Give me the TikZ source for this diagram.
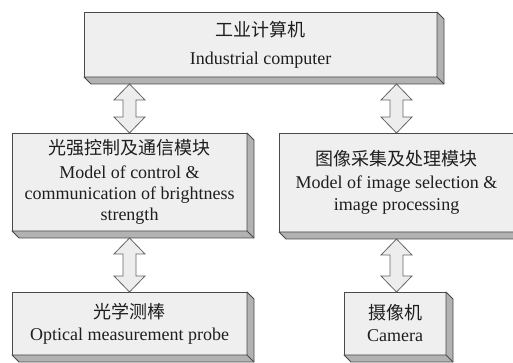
\documentclass[tikz,border=0pt]{standalone}
\usepackage{fontspec}
\setmainfont{Liberation Serif}
\newfontfamily\cjk{Noto Sans CJK SC}
\usetikzlibrary{calc}

\definecolor{boxfill}{HTML}{EFEFEF}
\definecolor{facefill}{HTML}{B2B2B2}
\definecolor{edgegray}{HTML}{4A4A4A}
\definecolor{arrowfill}{HTML}{EDEDED}
\definecolor{inkgray}{HTML}{1E1E1E}

\tikzset{
  panel/.style={draw=edgegray, fill=boxfill, line width=0.9pt, inner sep=0pt,
    outer sep=0pt, align=center, text=inkgray,
    font=\fontsize{18}{21}\selectfont},
  face/.style={draw=edgegray, fill=facefill, line width=0.9pt, line join=round},
  blockarrow/.style={draw=edgegray!85, fill=arrowfill, line width=0.8pt, line join=miter},
}

% slanted side and bottom faces that give a box its depth
\newcommand\depthfaces[1]{%
  \filldraw[face] (#1.north east) -- ++(7,-7) -- ([shift={(7,-7)}]#1.south east)
    -- ([shift={(7,-7)}]#1.south west) -- (#1.south west) -- (#1.south east) -- cycle;
  \draw[face] (#1.south east) -- ++(7,-7);
}

% vertical double-headed block arrow from point #1 down to point #2
\newcommand\dblarrow[2]{%
  \filldraw[blockarrow] let \p1=(#1), \p2=(#2), \n1={\y1-\y2-32pt} in
    (\p1) -- ++(15.5,-16) -- ++(-9,0) -- ++(0,-\n1) -- ++(9,0) -- (\p2)
    -- ++(-15.5,16) -- ++(9,0) -- ++(0,\n1) -- ++(-9,0) -- cycle;
}

\begin{document}
\begin{tikzpicture}[x=1pt,y=1pt]
  \useasboundingbox (0,0) rectangle (513,363);
  \clip (0,0) rectangle (513,363);

  \node[panel, minimum width=353pt, minimum height=65pt] (pc) at (260.5,318.5)
    {{\cjk 工业计算机}\\[7pt]Industrial computer};
  \node[panel, minimum width=235pt, minimum height=98pt] (ctrl) at (129.5,181)
    {{\cjk 光强控制及通信模块}\\[3pt]Model of control \&\\communication of brightness\\strength};
  \node[panel, minimum width=235pt, minimum height=99pt] (img) at (396.5,180.5)
    {{\cjk 图像采集及处理模块}\\[2pt]Model of image selection \&\\[1pt]image processing};
  \node[panel, minimum width=235pt, minimum height=63pt] (probe) at (129.5,39.5)
    {{\cjk 光学测棒}\\[1pt]Optical measurement probe};
  \node[panel, minimum width=102pt, minimum height=63pt] (cam) at (395,39.5)
    {{\cjk 摄像机}\\[1pt]Camera};

  \foreach \b in {pc,ctrl,img,probe,cam} {\depthfaces{\b}}

  \dblarrow{$(pc.south -| ctrl.north)+(0,-7)$}{ctrl.north}
  \dblarrow{$(pc.south -| img.north)+(0,-7)$}{img.north}
  \dblarrow{$(ctrl.south)+(0,-7)$}{probe.north -| ctrl.south}
  \dblarrow{$(img.south)+(0,-7)$}{cam.north -| img.south}
\end{tikzpicture}
\end{document}
